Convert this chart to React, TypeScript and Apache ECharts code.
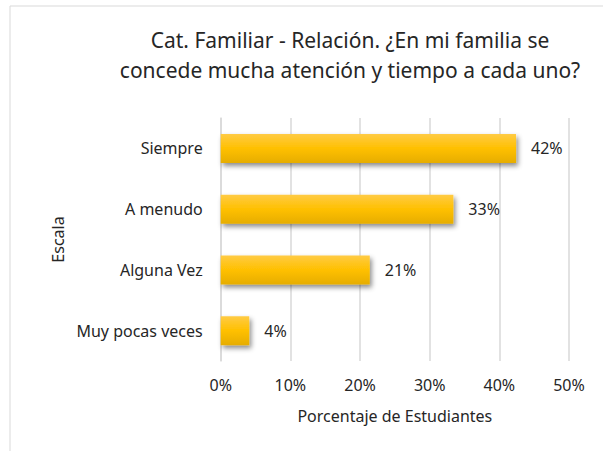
import React, { useEffect, useRef } from "react";
import * as echarts from "echarts";

const categories = ["Muy pocas veces", "Alguna Vez", "A menudo", "Siempre"];
const values = [4.1, 21.4, 33.4, 42.4];
const xTicks = [0, 10, 20, 30, 40, 50];
const titleLines = [
  "Cat. Familiar - Relación. ¿En mi familia se",
  "concede mucha atención y tiempo a cada uno?",
];
const xName = "Porcentaje de Estudiantes";
const yName = "Escala";

const FONT = "Noto Sans";

export default function App() {
  const ref = useRef<HTMLDivElement>(null);
  useEffect(() => {
    if (!ref.current) return;
    const chart = echarts.init(ref.current, undefined, { renderer: "svg" });
    chart.setOption({
      animation: false,
      backgroundColor: "#ffffff",
      textStyle: { fontFamily: FONT },
      graphic: [
        {
          type: "rect",
          shape: { x: 10, y: 6, width: 620, height: 480 },
          style: { fill: "none", stroke: "#d9d9d9", lineWidth: 1 },
          silent: true,
          z: -1,
        },
        ...titleLines.map((t, i) => ({
          type: "text",
          x: 350,
          y: 40.2 + i * 30,
          style: {
            text: t,
            fill: "#262626",
            font: `21px "${FONT}"`,
            textAlign: "center",
            textVerticalAlign: "middle",
          },
        })),
      ],
      grid: { left: 220.7, right: 34, top: 118, bottom: 90, containLabel: false },
      xAxis: {
        type: "value",
        min: xTicks[0],
        max: xTicks[xTicks.length - 1],
        interval: 10,
        name: xName,
        nameLocation: "middle",
        nameGap: 47,
        nameTextStyle: { fontFamily: FONT, fontSize: 16, color: "#262626" },
        axisLine: { show: false },
        axisTick: { show: false },
        axisLabel: {
          formatter: (v: number) => `${v}%`,
          fontFamily: FONT,
          fontSize: 16,
          color: "#262626",
          margin: 16,
        },
        splitLine: { show: true, lineStyle: { color: "#d9d9d9", width: 1.5 } },
      },
      yAxis: {
        type: "category",
        data: categories,
        name: yName,
        nameLocation: "middle",
        nameGap: 154,
        nameRotate: 90,
        nameTextStyle: { fontFamily: FONT, fontSize: 16, color: "#262626" },
        axisLine: { show: true, lineStyle: { color: "#d9d9d9", width: 1.5 } },
        axisTick: { show: false },
        axisLabel: {
          fontFamily: FONT,
          fontSize: 16,
          color: "#262626",
          margin: 18,
        },
      },
      series: [
        {
          type: "bar",
          data: values,
          barWidth: 29,
          itemStyle: {
            color: new echarts.graphic.LinearGradient(0, 0, 0, 1, [
              { offset: 0, color: "#ffcb45" },
              { offset: 0.5, color: "#ffc000" },
              { offset: 1, color: "#e6ad00" },
            ]),
            shadowColor: "rgba(0,0,0,0.45)",
            shadowBlur: 5,
            shadowOffsetX: 2,
            shadowOffsetY: 3,
          },
          label: {
            show: true,
            position: "right",
            distance: 15,
            formatter: (p: any) => `${Math.round(p.value)}%`,
            fontFamily: FONT,
            fontSize: 16,
            color: "#262626",
          },
        },
      ],
    });
    return () => chart.dispose();
  }, []);
  return (
    <div
      ref={ref}
      style={{ position: "absolute", left: 0, top: 0, width: 603, height: 451 }}
    />
  );
}
